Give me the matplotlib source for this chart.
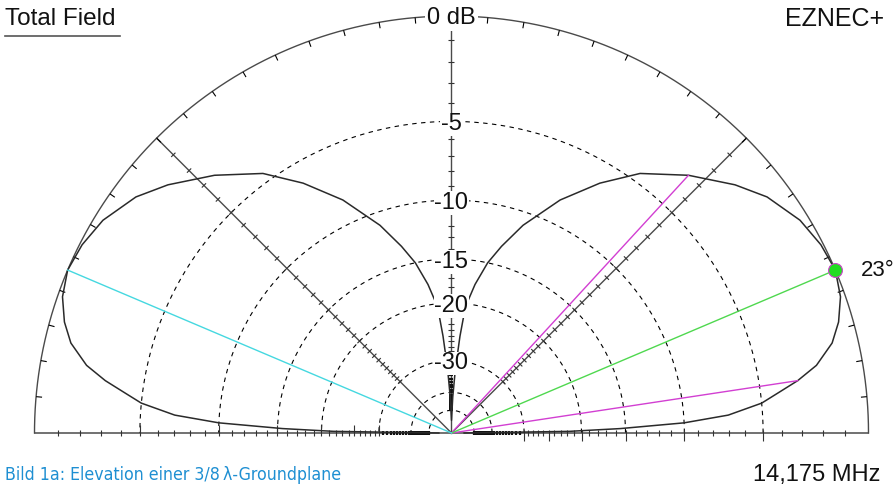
import numpy as np
import matplotlib
matplotlib.use('Agg')
import matplotlib.pyplot as plt
from matplotlib.collections import LineCollection
from matplotlib.lines import Line2D
from matplotlib import font_manager

# ---------------- data ----------------
elev_deg = [0, 0.8, 1.5, 2.5, 3.7, 5.5, 7.1, 8.6, 10.5, 13.3, 16, 19.3, 23,
            27, 31.4, 36.8, 41.2, 47.4, 54, 59.3, 65, 71, 75, 78, 81, 83.7,
            85, 86.5, 88, 90]
gain_db = [-60, -21.7, -15.5, -10, -7, -5, -4, -3, -2, -1.1, -0.6, -0.2, 0,
           -0.1, -0.36, -0.97, -1.74, -3, -4.5, -6.2, -8.3, -11, -13.2, -15,
           -17.5, -20.4, -25, -32, -42, -60]
max_elev = 23
max_db = 0
bw_elev = [8.6, 47.4]
bw_db = -3.0
mirror_elev = 157
ring_db = [-5, -10, -15, -20, -30, -40, -50]
ring_labels = {-5: '-5', -10: '-10', -15: '-15', -20: '-20', -30: '-30'}
radial_angles = [0, 45, 90, 135, 180]
title_text = 'Total Field'
brand_text = 'EZNEC+'
top_label = '0 dB'
angle_label = '23°'
freq_text = '14,175 MHz'
caption_text = 'Bild 1a: Elevation einer 3/8\u2009λ-Groundplane'


def arrl(db):
    return 0.89 ** (-np.asarray(db, dtype=float) / 2.0)


fl = font_manager.fontManager.ttflist
avail = {f.name for f in fl}
main_font = 'Liberation Sans' if 'Liberation Sans' in avail else 'DejaVu Sans'
cond_ok = any(f.name == 'DejaVu Sans' and f.stretch in ('condensed', 'semi-condensed', 400)
              for f in fl)
narrow_ok = 'Liberation Sans Narrow' in avail
plt.rcParams['font.family'] = [main_font, 'DejaVu Sans']

W, H = 895, 490
fig = plt.figure(figsize=(W / 100, H / 100), dpi=100)
ax = fig.add_axes([0, 0, 1, 1])
cx, cy, R = 451.5, 433.0, 417.0
ax.set_xlim(-cx / R, (W - cx) / R)
ax.set_ylim(-(H - cy) / R, cy / R)
ax.axis('off')
px = 1.0 / R
gray = '#4a4a4a'

# outer semicircle and baseline
t = np.linspace(0, np.pi, 600)
ax.plot(np.cos(t), np.sin(t), color=gray, lw=1.0, zorder=2)
ax.plot([-1, 1], [0, 0], color=gray, lw=1.1, zorder=2)

# radial lines
for a in [45, 90, 135]:
    ar = np.radians(a)
    ax.plot([0, np.cos(ar)], [0, np.sin(ar)], color=gray, lw=1.0, zorder=2)

# dashed rings
for db in ring_db:
    r = arrl(db)
    ax.plot(r * np.cos(t), r * np.sin(t), color='black', lw=0.8,
            linestyle=(0, (4, 4)), zorder=1)

# outer circle ticks every 5 deg
segs = []
for a in range(5, 180, 5):
    ar = np.radians(a)
    segs.append([(np.cos(ar), np.sin(ar)),
                 ((1 - 6 * px) * np.cos(ar), (1 - 6 * px) * np.sin(ar))])
ax.add_collection(LineCollection(segs, colors='black', linewidths=0.8, zorder=3))

# radial ticks
segs = []
dense = []
for a in radial_angles:
    ar = np.radians(a)
    d = np.array([np.cos(ar), np.sin(ar)])
    n = np.array([-np.sin(ar), np.cos(ar)])
    axis_line = a in (0, 90, 180)
    last = 50 if axis_line else 30
    for db in range(1, last + 1):
        r = float(arrl(-db))
        p = r * d
        if db > 30:
            dense.append([tuple(p + 2 * px * n), tuple(p - 2 * px * n)])
            continue
        if db % 5 == 0 and a in (0, 180):
            a1, a2 = 3 * px, 8 * px
        else:
            a1 = a2 = 3 * px
        segs.append([tuple(p + a1 * n), tuple(p - a2 * n)])
ax.add_collection(LineCollection(segs, colors='#333333', linewidths=0.8, zorder=3))
ax.add_collection(LineCollection(dense, colors='#111111', linewidths=1.6, zorder=3))

# pattern
el = np.radians(elev_deg)
r_pat = arrl(gain_db)
xr = r_pat * np.cos(el)
yr = r_pat * np.sin(el)
xs = np.concatenate([xr, -xr[::-1]])
ys = np.concatenate([yr, yr[::-1]])
ax.plot(xs, ys, color='#2a2a2a', lw=1.1, zorder=4)

# indicator lines
for e in bw_elev:
    er = np.radians(e)
    rr = float(arrl(bw_db))
    ax.plot([0, rr * np.cos(er)], [0, rr * np.sin(er)], color='#d23fd2', lw=1.0, zorder=5)
er = np.radians(max_elev)
rr = float(arrl(max_db))
ax.plot([0, rr * np.cos(er)], [0, rr * np.sin(er)], color='#4fd84f', lw=1.0, zorder=5)
em = np.radians(mirror_elev)
ax.plot([0, rr * np.cos(em)], [0, rr * np.sin(em)], color='#45d8e0', lw=1.0, zorder=5)
ax.plot([rr * np.cos(er)], [rr * np.sin(er)], 'o', ms=10, mfc='#22dd22',
        mec='#cc44cc', mew=0.8, zorder=6)

# ring labels
box = dict(facecolor='white', edgecolor='none', pad=0.5)
for db, lab in ring_labels.items():
    ax.text(0, float(arrl(db)) - 3 * px, lab, ha='center', va='center',
            fontsize=17, color='#111111', bbox=box, zorder=7)
ax.text(0, 1 - 2 * px, top_label, ha='center', va='center', fontsize=17,
        color='#111111', bbox=dict(facecolor='white', edgecolor='none', pad=1.5), zorder=7)
ax.text(rr * np.cos(er) + 26 * px, rr * np.sin(er), angle_label, ha='left',
        va='center', fontsize=16, color='#111111', zorder=7)

# header / footer texts
fig.text(5 / W, 1 - 19 / H, title_text, ha='left', va='center', fontsize=17.5,
         color='#111111')
fig.add_artist(Line2D([5 / W, 120 / W], [1 - 36 / H, 1 - 36 / H],
                      transform=fig.transFigure, color='#555555', lw=1.2))
fig.text(884 / W, 1 - 19 / H, brand_text, ha='right', va='center', fontsize=18,
         color='#111111')
fig.text(880 / W, 1 - 475 / H, freq_text, ha='right', va='center', fontsize=17,
         color='#111111')
if narrow_ok:
    cap_kw = dict(family=['Liberation Sans Narrow', 'DejaVu Sans'], fontsize=15)
else:
    cap_kw = dict(family=['DejaVu Sans'], fontstretch='condensed', fontsize=12.7)
fig.text(5 / W, 1 - 475 / H, caption_text, ha='left', va='center',
         color='#1e8fd2', **cap_kw)

fig.savefig('out.png', dpi=100)
